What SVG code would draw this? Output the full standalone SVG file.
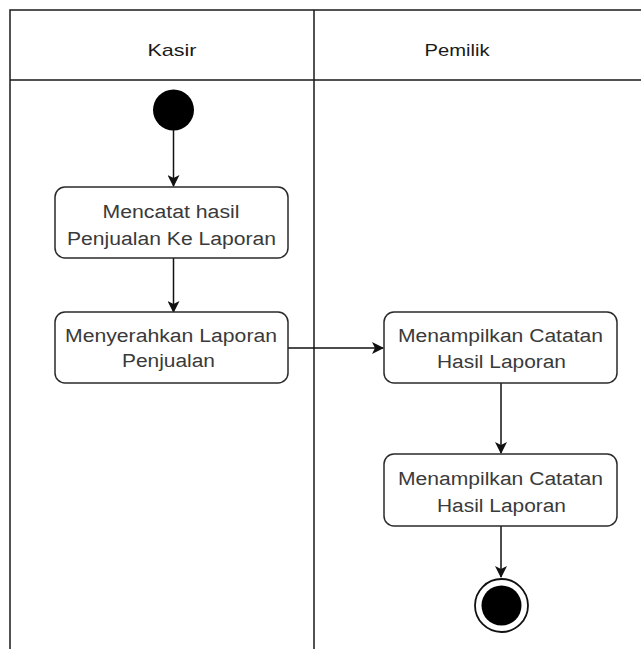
<svg xmlns="http://www.w3.org/2000/svg" width="641" height="649" viewBox="0 0 641 649">
<style>
.lane{fill:none;stroke:#1a1a1a;stroke-width:1.5}
.box{fill:#fff;stroke:#2a2a2a;stroke-width:1.5}
.t{font-family:"Liberation Sans",Arial,sans-serif;font-size:18px;fill:#3a3a3a;text-anchor:middle}
.h{font-family:"Liberation Sans",Arial,sans-serif;font-size:17px;fill:#1a1a1a;text-anchor:middle}
.c{fill:none;stroke:#111;stroke-width:1.5;marker-end:url(#arr)}
</style>
<defs>
<marker id="arr" viewBox="0 0 12 12" refX="11" refY="6" markerWidth="12" markerHeight="12" markerUnits="userSpaceOnUse" orient="auto">
<path d="M0,0 L12,6 L0,12 L3,6 Z" fill="#111"/>
</marker>
</defs>
<rect width="641" height="649" fill="#fff"/>
<g id="lanes">
<path class="lane" d="M10,649 V10 H641 M10,80 H641 M314,10 V649"/>
<text class="h" x="172" y="56" textLength="49" lengthAdjust="spacingAndGlyphs">Kasir</text>
<text class="h" x="457" y="56" textLength="65" lengthAdjust="spacingAndGlyphs">Pemilik</text>
</g>
<g id="connectors">
<path class="c" d="M173.5,130 V186"/>
<path class="c" d="M173.5,258 V312"/>
<path class="c" d="M288,348 H383"/>
<path class="c" d="M501,383 V453"/>
<path class="c" d="M501,526 V577"/>
</g>
<g id="start"><circle cx="173.5" cy="110" r="20.5" fill="#000"/></g>
<g id="n1">
<rect class="box" x="55" y="187" width="233" height="71" rx="10"/>
<text class="t" x="171" y="218" textLength="137" lengthAdjust="spacingAndGlyphs">Mencatat hasil</text>
<text class="t" x="171.5" y="245" textLength="209" lengthAdjust="spacingAndGlyphs">Penjualan Ke Laporan</text>
</g>
<g id="n2">
<rect class="box" x="55" y="312" width="233" height="71" rx="10"/>
<text class="t" x="171" y="342" textLength="212" lengthAdjust="spacingAndGlyphs">Menyerahkan Laporan</text>
<text class="t" x="168.5" y="367" textLength="93" lengthAdjust="spacingAndGlyphs">Penjualan</text>
</g>
<g id="n3">
<rect class="box" x="384" y="312" width="233" height="71" rx="10"/>
<text class="t" x="500.5" y="342" textLength="205" lengthAdjust="spacingAndGlyphs">Menampilkan Catatan</text>
<text class="t" x="501.5" y="368" textLength="129" lengthAdjust="spacingAndGlyphs">Hasil Laporan</text>
</g>
<g id="n4">
<rect class="box" x="384" y="454" width="233" height="72" rx="10"/>
<text class="t" x="500.5" y="485" textLength="205" lengthAdjust="spacingAndGlyphs">Menampilkan Catatan</text>
<text class="t" x="501.5" y="512" textLength="129" lengthAdjust="spacingAndGlyphs">Hasil Laporan</text>
</g>
<g id="end">
<circle cx="501.5" cy="605.5" r="26.5" fill="#fff" stroke="#111" stroke-width="1.8"/>
<circle cx="501.5" cy="605.5" r="20" fill="#000"/>
</g>
</svg>
